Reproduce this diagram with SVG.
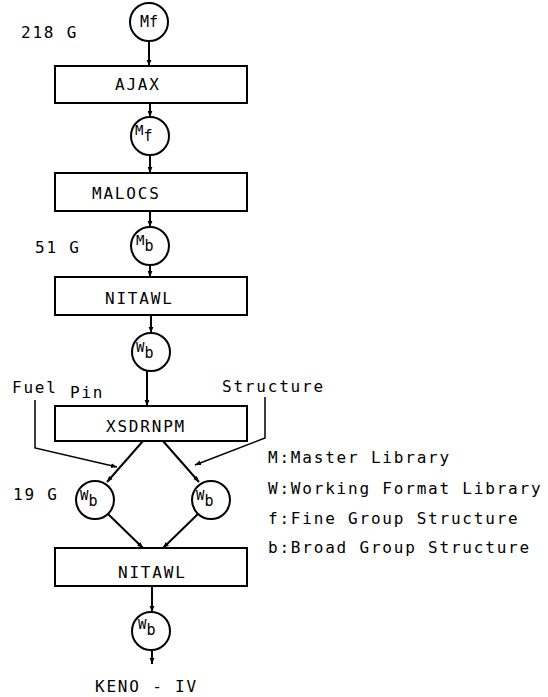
<svg xmlns="http://www.w3.org/2000/svg" width="548" height="697" viewBox="0 0 548 697">
<defs>
<marker id="ah" viewBox="0 0 10 10" refX="10" refY="5" markerWidth="6" markerHeight="6" orient="auto" markerUnits="userSpaceOnUse">
<path d="M0,1 L10,5 L0,9 Z" fill="#000"/>
</marker>
<style>
.t{font-family:"DejaVu Sans Mono","Liberation Mono",monospace;font-size:16px;letter-spacing:1.8px;fill:#000}
.c{font-family:"DejaVu Sans Mono","Liberation Mono",monospace;font-size:15px;fill:#000}
.b{font-size:14px}
.s{font-size:15px}
.box{fill:#fff;stroke:#000;stroke-width:2}
.cir{fill:#fff;stroke:#000;stroke-width:2}
.ln{fill:none;stroke:#000;stroke-width:2;marker-end:url(#ah)}
.ln1{fill:none;stroke:#000;stroke-width:1.5;marker-end:url(#ah)}
</style>
</defs>
<rect width="548" height="697" fill="#fff"/>
<g id="connectors">
<line class="ln" x1="149" y1="41" x2="149" y2="66"/>
<line class="ln" x1="150" y1="103" x2="150" y2="117"/>
<line class="ln" x1="150" y1="155" x2="150" y2="173"/>
<line class="ln" x1="150" y1="211" x2="150" y2="227"/>
<line class="ln" x1="150" y1="265" x2="150" y2="277"/>
<line class="ln" x1="151" y1="315" x2="151" y2="333"/>
<line class="ln" x1="147" y1="371" x2="147" y2="406"/>
<polyline class="ln1" points="35,400 35,448 117,467"/>
<polyline class="ln1" points="265,397 265,438 195,465"/>
<line class="ln" x1="143" y1="441" x2="107" y2="482"/>
<line class="ln" x1="163" y1="441" x2="199" y2="482"/>
<line class="ln" x1="108" y1="514" x2="143" y2="548"/>
<line class="ln" x1="198" y1="514" x2="163" y2="548"/>
<line class="ln" x1="152" y1="586" x2="152" y2="612"/>
<line class="ln" x1="152" y1="650" x2="152" y2="664"/>
</g>
<g id="n_mf1"><circle class="cir" cx="149" cy="22" r="19"/><text class="c" x="149" y="27" text-anchor="middle">Mf</text></g>
<text class="t" x="21" y="38">218 G</text>
<g id="n_ajax"><rect class="box" x="55" y="66" width="192" height="37"/><text class="t" x="115" y="90">AJAX</text></g>
<g id="n_mf2"><circle class="cir" cx="150" cy="136" r="19"/><text class="c" x="135" y="135"><tspan class="b">M</tspan><tspan class="s" dy="6">f</tspan></text></g>
<g id="n_malocs"><rect class="box" x="55" y="173" width="192" height="38"/><text class="t" x="92" y="199">MALOCS</text></g>
<text class="t" x="35" y="253">51 G</text>
<g id="n_mb"><circle class="cir" cx="150" cy="246" r="19"/><text class="c" x="136" y="245"><tspan class="b">M</tspan><tspan class="s" dy="6">b</tspan></text></g>
<g id="n_nitawl1"><rect class="box" x="55" y="277" width="192" height="38"/><text class="t" x="105" y="304">NITAWL</text></g>
<g id="n_wb1"><circle class="cir" cx="151" cy="352" r="19"/><text class="c" x="136" y="352"><tspan class="b">W</tspan><tspan class="s" dy="6">b</tspan></text></g>
<text class="t" x="12" y="393">Fuel</text>
<text class="t" x="70" y="398">Pin</text>
<text class="t" x="222" y="392">Structure</text>
<g id="n_xsdrnpm"><rect class="box" x="55" y="406" width="192" height="35"/><text class="t" x="106" y="432">XSDRNPM</text></g>
<text class="t" x="13" y="500">19 G</text>
<g id="n_wb_l"><circle class="cir" cx="95" cy="500" r="19"/><text class="c" x="80" y="500"><tspan class="b">W</tspan><tspan class="s" dy="6">b</tspan></text></g>
<g id="n_wb_r"><circle class="cir" cx="211" cy="500" r="19"/><text class="c" x="196" y="500"><tspan class="b">W</tspan><tspan class="s" dy="6">b</tspan></text></g>
<g id="n_nitawl2"><rect class="box" x="55" y="548" width="192" height="38"/><text class="t" x="118" y="578">NITAWL</text></g>
<g id="n_wb3"><circle class="cir" cx="151" cy="631" r="19"/><text class="c" x="138" y="629"><tspan class="b">W</tspan><tspan class="s" dy="6">b</tspan></text></g>
<text class="t" x="95" y="692">KENO - IV</text>
<g id="legend">
<text class="t" x="268" y="463">M:Master Library</text>
<text class="t" x="268" y="494">W:Working Format Library</text>
<text class="t" x="268" y="524">f:Fine Group Structure</text>
<text class="t" x="268" y="553">b:Broad Group Structure</text>
</g>
</svg>
